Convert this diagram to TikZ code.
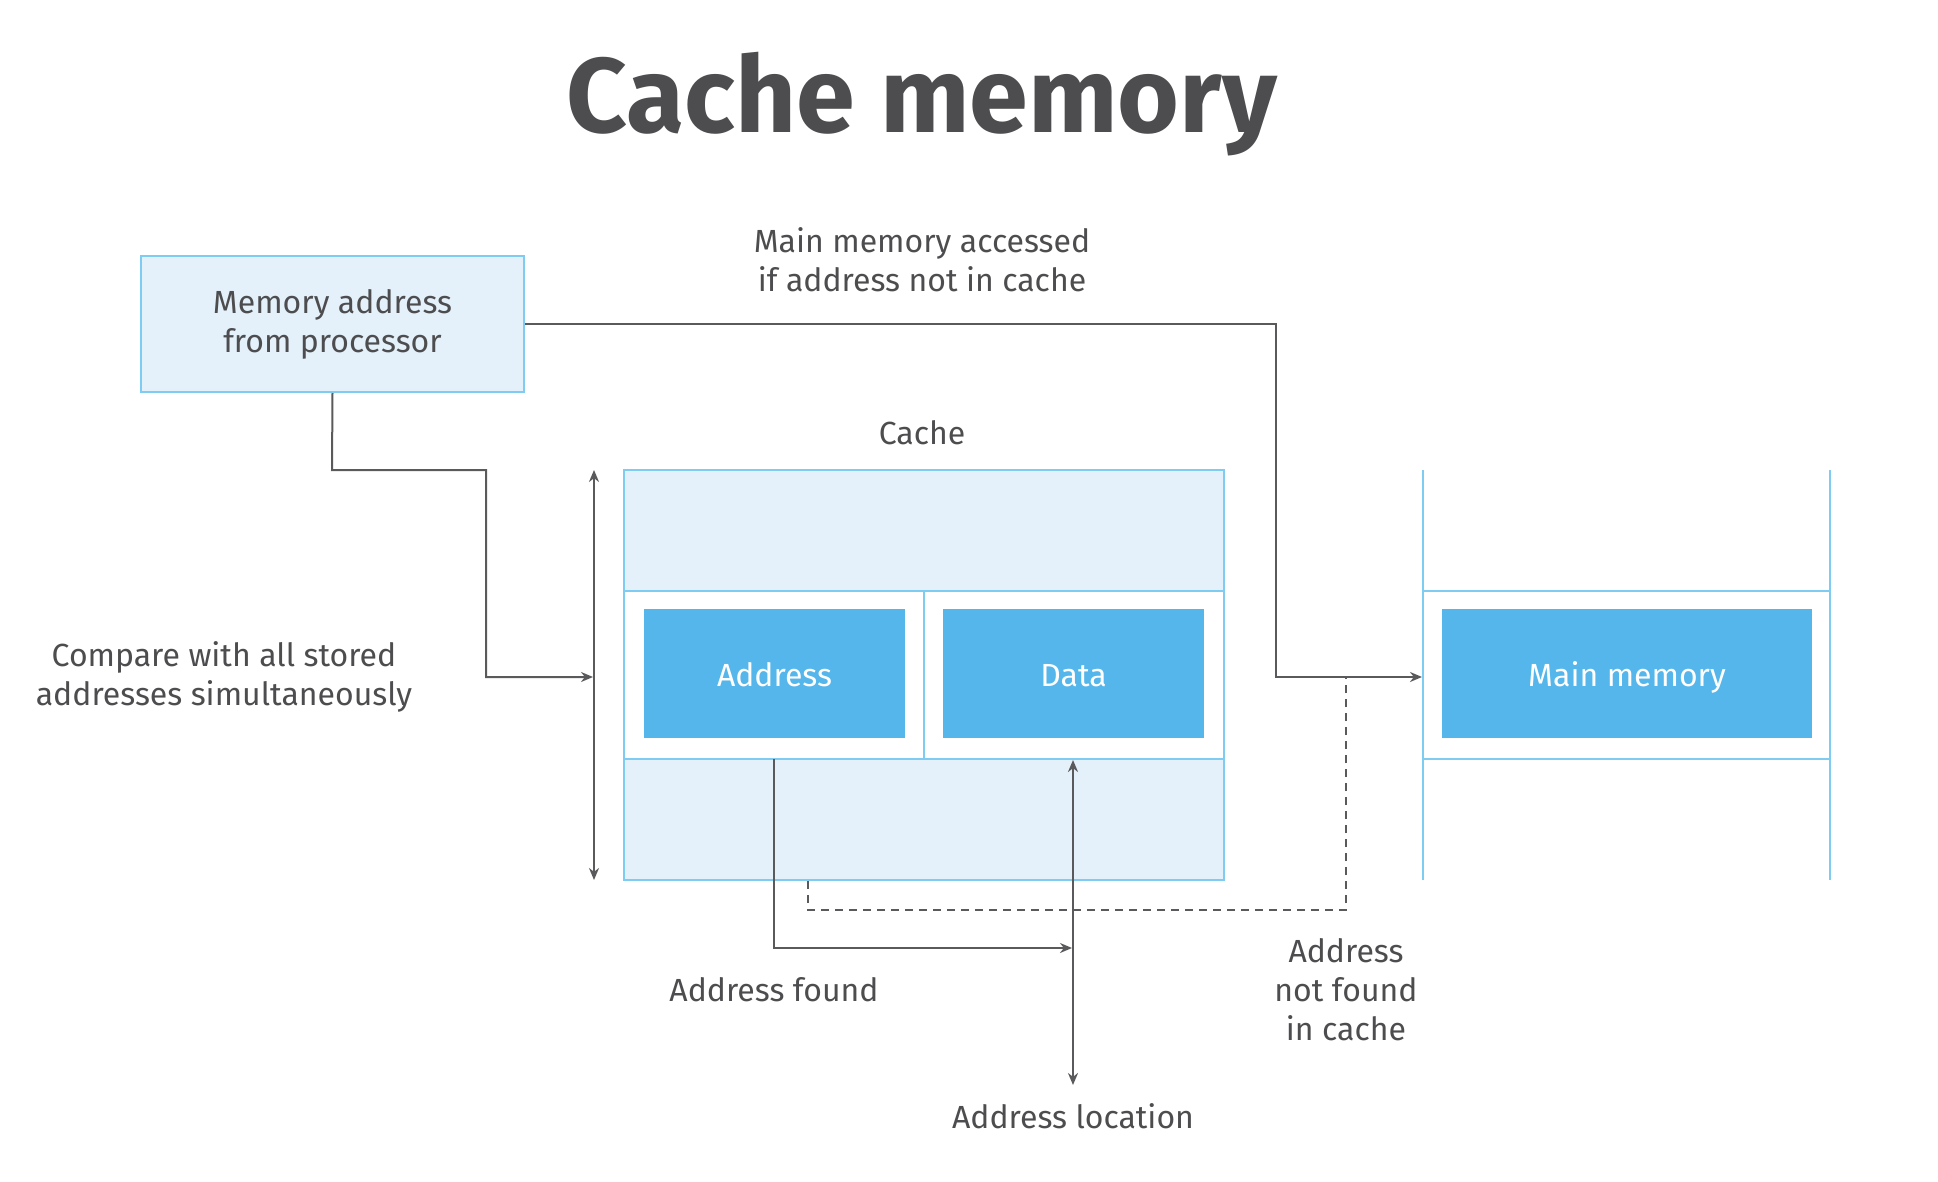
\documentclass[tikz,border=0pt]{standalone}
\usepackage{fontspec}
\setmainfont{Fira Sans}
\usetikzlibrary{arrows.meta,calc}
\definecolor{txt}{HTML}{4D4D4F}
\definecolor{lblue}{HTML}{E4F1FB}
\definecolor{bblue}{HTML}{7FCCF2}
\definecolor{dblue}{HTML}{55B6EB}
\definecolor{conn}{HTML}{5A5A5C}
\tikzset{
  lbl/.style={text=txt, font=\fontsize{16}{19.5}\selectfont, align=center, inner sep=0pt},
  darkbox/.style={fill=dblue, draw=none, text=white, font=\fontsize{16}{19.5}\selectfont, minimum height=64.5pt, inner sep=0pt, text height=13.5pt, text depth=0.8pt},
  wire/.style={draw=conn, line width=1pt},
  arr/.style={wire, -{Stealth[length=6pt,width=5pt]}},
  darr/.style={wire, {Stealth[length=6pt,width=5pt]}-{Stealth[length=6pt,width=5pt]}},
  dashwire/.style={draw=conn, line width=1pt, dash pattern=on 4pt off 3pt},
  bline/.style={draw=bblue, line width=1pt}
}
\begin{document}
\begin{tikzpicture}[x=0.5pt,y=-0.5pt]
\useasboundingbox[fill=white] (0,0) rectangle (1938,1182);
% title
\node[text=txt, font=\fontsize{53}{60}\selectfont\bfseries, inner sep=0pt] (title) at (922,104) {Cache memory};
% memory address box
\node[fill=lblue, draw=bblue, line width=1pt, minimum width=191.5pt, minimum height=68pt, lbl, inner sep=0pt] (mem) at (332.5,324) {Memory address\\from processor};
% cache
\node[fill=lblue, draw=bblue, line width=1pt, minimum width=300pt, minimum height=205pt, inner sep=0pt] (cache) at (924,675) {};
\node[fill=white, draw=bblue, line width=1pt, minimum width=300pt, minimum height=84pt, inner sep=0pt] (band) at (924,675) {};
\draw[bline] (band.north) -- (band.south);
\node[darkbox, minimum width=130.5pt] (addr) at (774.5,673.5) {Address};
\node[darkbox, minimum width=130.5pt] (data) at (1073.5,673.5) {Data};
\node[lbl, anchor=south] (cachelbl) at (922,445) {Cache};
% main memory
\coordinate (mmtl) at (1423,470);
\coordinate (mmtr) at (1830,470);
\coordinate (mmbl) at (1423,880);
\coordinate (mmbr) at (1830,880);
\draw[bline] (mmtl) -- (mmbl);
\draw[bline] (mmtr) -- (mmbr);
\draw[bline] (1423,591) -- (1830,591);
\draw[bline] (1423,759) -- (1830,759);
\node[darkbox, minimum width=185pt] (mm) at (1627,673.5) {Main memory};
\coordinate (mmin) at (1422,677);
% labels
\node[lbl] (acc) at (922,260) {Main memory accessed\\if address not in cache};
\node[lbl] (cmp) at (224,677) {Compare with all stored\\addresses simultaneously};
\node[lbl] (found) at (774,990) {Address found};
\node[lbl] (notfound) at (1346,990) {Address\\not found\\in cache};
\node[lbl] (loc) at (1073,1116) {Address location};
% vertical extent arrow of cache
\coordinate (vtop) at (594,470);
\coordinate (vbot) at (594,880);
\coordinate (vmid) at (593,677);
\draw[darr] (vtop) -- (vbot);
% connectors
\draw[arr] (mem.south) -- (332,470) -- (486,470) -- (486,677) -- (vmid);
\draw[arr] (mem.east) -- (1276,324) -- (1276,677) -- (mmin);
\coordinate (afstart) at (774,759);
\coordinate (aftip) at (1072,948);
\draw[arr] (afstart) -- (774,948) -- (aftip);
\coordinate (dtop) at (1073,760);
\coordinate (dbot) at (1073,1085);
\draw[darr] (dbot) -- (dtop);
\coordinate (dstart) at (808,881);
\coordinate (dend) at (1346,677);
\draw[dashwire] (dstart) -- (808,910) -- (1346,910) -- (dend);
\end{tikzpicture}
\end{document}
